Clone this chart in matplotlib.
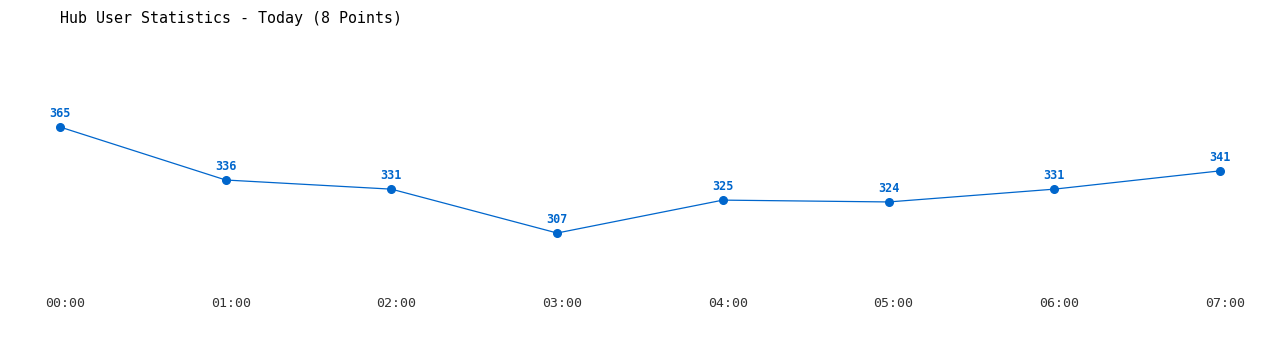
import matplotlib
matplotlib.use("Agg")
from matplotlib import pyplot as plt
from matplotlib import transforms

hours = ["00:00", "01:00", "02:00", "03:00", "04:00", "05:00", "06:00", "07:00"]
users = [365, 336, 331, 307, 325, 324, 331, 341]

W, H = 1280, 350
fig = plt.figure(figsize=(W / 100, H / 100), dpi=100)
# axes from pixel x 60..1220, y 60..280 (top-down)
ax = fig.add_axes([60 / W, (H - 280) / H, 1160 / W, 220 / H])

xs = list(range(len(hours)))
ax.plot(xs, users, color="#0066cc", linewidth=0.9, marker="o", markersize=5.5, clip_on=False)
for x, v in zip(xs, users):
    ax.annotate(str(v), (x, v), xytext=(0, 5), textcoords="offset points",
                ha="center", va="bottom", color="#0066cc", fontsize=8.5,
                fontweight="bold", family="DejaVu Sans Mono")

ax.set_xlim(0, 7)
ax.set_ylim(281.3, 401.65)
ax.set_xticks(xs)
ax.set_xticklabels(hours, family="DejaVu Sans Mono", fontsize=9.5, color="#333333")
ax.tick_params(axis="x", length=0, pad=12)
# labels sit a few pixels right of the points
shift = transforms.ScaledTranslation(5 / 100, 0, fig.dpi_scale_trans)
for lbl in ax.get_xticklabels():
    lbl.set_transform(lbl.get_transform() + shift)
ax.set_yticks([])
for s in ax.spines.values():
    s.set_visible(False)

fig.text(60 / W, 1 - 18 / H, "Hub User Statistics - Today (8 Points)", ha="left", va="center",
         family="DejaVu Sans Mono", fontsize=10.8, color="#000000")

fig.savefig("out.png", dpi=100, facecolor="white")
